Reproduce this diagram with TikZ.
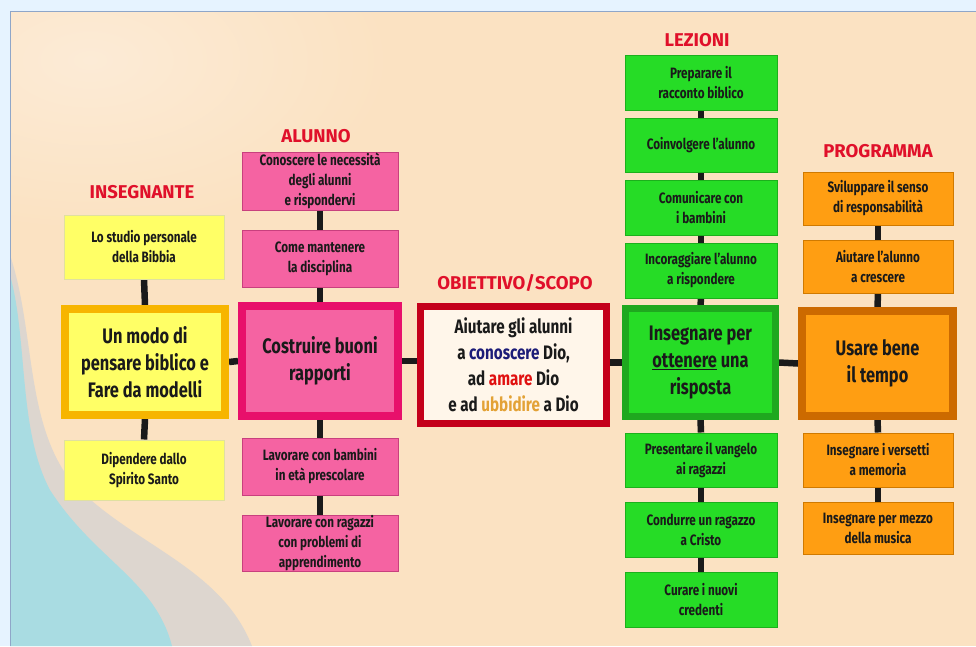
\documentclass[tikz,border=0pt]{standalone}
\usepackage{fontspec}
\setmainfont{Fira Sans}[FakeStretch=0.78]
\newfontfamily\headfont{Fira Sans}
\definecolor{outerblue}{HTML}{E6F3FF}
\definecolor{panelframe}{HTML}{8FA6C8}
\definecolor{peach}{HTML}{FBE2C2}
\definecolor{peachlight}{HTML}{FCEBD6}
\definecolor{sea}{HTML}{A9DCE2}
\definecolor{seagrey}{HTML}{DDD6CF}
\definecolor{headred}{HTML}{E0102A}
\definecolor{yfill}{HTML}{FFFF66}
\definecolor{yline}{HTML}{E0E0A0}
\definecolor{ybig}{HTML}{F7B500}
\definecolor{pfill}{HTML}{F563A2}
\definecolor{pline}{HTML}{C8407E}
\definecolor{pbig}{HTML}{E8106B}
\definecolor{gfill}{HTML}{26DC26}
\definecolor{gline}{HTML}{1CB01C}
\definecolor{gbig}{HTML}{1FA81F}
\definecolor{ofill}{HTML}{FF9E12}
\definecolor{oline}{HTML}{D07A00}
\definecolor{obig}{HTML}{CC6A00}
\definecolor{objfill}{HTML}{FFF6EA}
\definecolor{objline}{HTML}{C4001A}
\definecolor{wnavy}{HTML}{1C1C78}
\definecolor{wred}{HTML}{E01010}
\definecolor{wgold}{HTML}{E3A236}
\definecolor{ink}{HTML}{1A1A1A}
\pgfdeclarelayer{back}
\pgfdeclarelayer{links}
\pgfsetlayers{back,links,main}
\begin{document}
\begin{tikzpicture}[x=1pt,y=-1pt,
  every node/.style={inner sep=0pt, align=center, text=ink},
  smallbox/.style={rectangle, line width=1pt, font=\fontsize{15}{20}\selectfont\bfseries},
  bigbox/.style={rectangle, line width=8pt, font=\fontsize{21}{27}\selectfont\bfseries},
  ysm/.style={smallbox, fill=yfill, draw=yline, minimum width=160, minimum height=#1},
  psm/.style={smallbox, fill=pfill, draw=pline, minimum width=156, minimum height=#1},
  gsm/.style={smallbox, fill=gfill, draw=gline, minimum width=152, minimum height=#1},
  osm/.style={smallbox, fill=ofill, draw=oline, minimum width=150, minimum height=#1},
  heading/.style={font=\headfont\fontsize{18.5}{20}\selectfont\bfseries, text=headred},
  conn/.style={line width=6.5pt, draw=ink}
]
\useasboundingbox (0,0) rectangle (976,646);
% ---------- background ----------
\begin{pgfonlayer}{back}
\fill[outerblue] (0,0) rectangle (976,646);
\fill[peach] (10,11) rectangle (976,646);
\begin{scope}
\clip (10,11) rectangle (976,646);
\shade[inner color=peachlight, outer color=peach] (90,60) ellipse [x radius=300, y radius=170];
\fill[seagrey] (10,255) .. controls (35,330) and (25,420) .. (70,480)
   .. controls (130,545) and (220,565) .. (252,646) -- (10,646) -- cycle;
\fill[sea] (10,275) .. controls (28,340) and (18,430) .. (50,490)
   .. controls (95,560) and (155,580) .. (172,646) -- (10,646) -- cycle;
\end{scope}
\draw[panelframe, line width=1pt] (10.5,646) -- (10.5,11.5) -- (976,11.5);
\end{pgfonlayer}

% ---------- headings ----------
\node[heading] (hI) at (142,192) {INSEGNANTE};
\node[heading] (hA) at (316,136) {ALUNNO};
\node[heading] (hO) at (515,283) {OBIETTIVO/SCOPO};
\node[heading] (hL) at (697,40) {LEZIONI};
\node[heading] (hP) at (878,151) {PROGRAMMA};

% ---------- INSEGNANTE ----------
\node[ysm=64] (i1) at (144,247) {Lo studio personale\\della Bibbia};
\node[bigbox, fill=yfill, draw=ybig, minimum width=160, minimum height=106] (i0) at (145,362)
  {Un modo di\\pensare biblico e\\Fare da modelli};
\node[ysm=60] (i2) at (144,470) {Dipendere dallo\\Spirito Santo};

% ---------- ALUNNO ----------
\node[psm=58] (a1) at (320,181) {Conoscere le necessità\\degli alunni\\e rispondervi};
\node[psm=57] (a2) at (320,258.5) {Come mantenere\\la disciplina};
\node[bigbox, fill=pfill, draw=pbig, minimum width=156, minimum height=110] (a0) at (320,361)
  {Costruire buoni\\rapporti};
\node[psm=57] (a3) at (320,466.5) {Lavorare con bambini\\in età prescolare};
\node[psm=56] (a4) at (320,543) {Lavorare con ragazzi\\con problemi di\\apprendimento};

% ---------- OBIETTIVO ----------
\node[rectangle, line width=7pt, fill=objfill, draw=objline, minimum width=186, minimum height=117,
  font=\fontsize{19.5}{26}\selectfont\bfseries] (o0) at (513.5,365)
  {Aiutare gli alunni\\a {\color{wnavy}conoscere} Dio,\\ad {\color{wred}amare} Dio\\e ad {\color{wgold}ubbidire} a Dio};

% ---------- LEZIONI ----------
\node[gsm=55] (l1) at (701,82.5) {Preparare il\\racconto biblico};
\node[gsm=54] (l2) at (701,145) {Coinvolgere l’alunno};
\node[gsm=55] (l3) at (701,207.5) {Comunicare con\\i bambini};
\node[gsm=55] (l4) at (701,270.5) {Incoraggiare l’alunno\\a rispondere};
\node[bigbox, line width=7pt, fill=gfill, draw=gbig, minimum width=150, minimum height=108] (l0) at (700.5,362.5)
  {Insegnare per\\\underline{ottenere} una\\risposta};
\node[gsm=54] (l5) at (701,460) {Presentare il vangelo\\ai ragazzi};
\node[gsm=55] (l6) at (701,529.5) {Condurre un ragazzo\\a Cristo};
\node[gsm=55] (l7) at (701,599.5) {Curare i nuovi\\credenti};

% ---------- PROGRAMMA ----------
\node[osm=53] (p1) at (878,198.5) {Sviluppare il senso\\di responsabilità};
\node[osm=53] (p2) at (878,266.5) {Aiutare l’alunno\\a crescere};
\node[bigbox, fill=ofill, draw=obig, minimum width=151, minimum height=105] (p0) at (877.5,363.5)
  {Usare bene\\il tempo};
\node[osm=54] (p3) at (878,460) {Insegnare i versetti\\a memoria};
\node[osm=52] (p4) at (878,528) {Insegnare per mezzo\\della musica};

% ---------- connectors ----------
\begin{pgfonlayer}{links}
\draw[conn] (i1.south) -- (i0.north);
\draw[conn] (i0.south) -- (i2.north);
\draw[conn] (a1.south) -- (a2.north);
\draw[conn] (a2.south) -- (a0.north);
\draw[conn] (a0.south) -- (a3.north);
\draw[conn] (a3.south) -- (a4.north);
\draw[conn] (l1.south) -- (l2.north);
\draw[conn] (l2.south) -- (l3.north);
\draw[conn] (l3.south) -- (l4.north);
\draw[conn] (l4.south) -- (l0.north);
\draw[conn] (l0.south) -- (l5.north);
\draw[conn] (l5.south) -- (l6.north);
\draw[conn] (l6.south) -- (l7.north);
\draw[conn] (p1.south) -- (p2.north);
\draw[conn] (p2.south) -- (p0.north);
\draw[conn] (p0.south) -- (p3.north);
\draw[conn] (p3.south) -- (p4.north);
\draw[conn] (i0.east) -- (a0.west);
\draw[conn] (a0.east) -- (a0.east -| o0.west);
\draw[conn] (o0.west |- l0.west) -- (l0.west);
\draw[conn] (l0.east) -- (p0.west);
\end{pgfonlayer}
\end{tikzpicture}
\end{document}
